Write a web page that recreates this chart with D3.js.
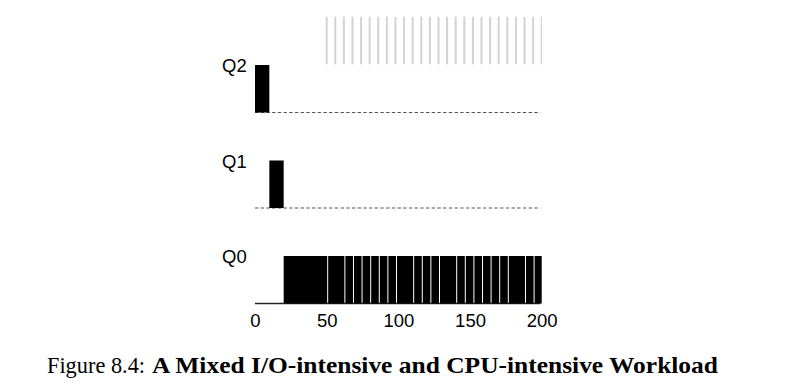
<!DOCTYPE html>
<html>
<head>
<meta charset="utf-8">
<script src="https://cdn.jsdelivr.net/npm/d3@7"></script>
<style>
  body { margin: 0; background: #fff; }
  svg { display: block; }
</style>
</head>
<body>
<svg id="chart" width="787" height="389"></svg>
<script>
//
// Data
//

// queues, top to bottom
var queues = ['Q2', 'Q1', 'Q0']
// x axis ticks (ms)
var tickValues = [0, 50, 100, 150, 200]
// long-running job: where it sits in each queue [queue, start, end]
var cpuRuns = [
    ['Q2', 0, 10],
    ['Q1', 10, 20]
]
// in Q0 it runs from 20 until 200, broken where the interactive job steps in
var q0Start = 20
var q0End = 200
var q0Breaks = [50, 62, 68, 74, 80, 86, 92, 98, 110, 116, 122, 128, 140, 146, 152, 158, 164, 170, 176, 188, 194]
// interactive (I/O) job runs, drawn in grey at the top
var ioRuns = [50, 56, 62, 68, 74, 80, 86, 92, 98, 104, 110, 116, 122, 128, 134, 140, 146, 152, 158, 164, 170, 176, 182, 188, 194, 200]

var captionLabel = 'Figure 8.4:'
var captionTitle = 'A Mixed I/O-intensive and CPU-intensive Workload'

//
// Scales
//

var svg = d3.select('#chart')
var x = d3.scaleLinear().domain([0, 200]).range([255, 541.7])
var base = d3.scalePoint().domain(queues).range([112.5, 303.5])
var barH = 47.5

// dashed baselines
svg.selectAll('line.base')
    .data(queues)
    .join('line')
    .attr('class', 'base')
    .attr('x1', x(0))
    .attr('x2', x(199))
    .attr('y1', function (q) { return base(q) })
    .attr('y2', function (q) { return base(q) })
    .attr('stroke', function (q) { return q === 'Q0' ? '#222' : '#555' })
    .attr('stroke-width', function (q) { return q === 'Q0' ? 1.5 : 1 })
    .attr('stroke-dasharray', function (q) { return q === 'Q0' ? null : '3.4,2.3' })

// queue labels
svg.selectAll('text.q')
    .data(queues)
    .join('text')
    .attr('class', 'q')
    .attr('x', 222)
    .attr('y', function (q) { return base(q) - 40.5 })
    .attr('font-family', 'Liberation Sans, Arial, sans-serif')
    .attr('font-size', 18.5)
    .attr('fill', '#000')
    .text(function (q) { return q })

// cpu job in Q2 / Q1
svg.selectAll('rect.run')
    .data(cpuRuns)
    .join('rect')
    .attr('class', 'run')
    .attr('x', function (d) { return x(d[1]) })
    .attr('width', function (d) { return x(d[2]) - x(d[1]) })
    .attr('y', function (d) { return base(d[0]) - barH })
    .attr('height', barH)
    .attr('fill', '#000')

// cpu job in Q0, split into slices
var bounds = [q0Start].concat(q0Breaks, [q0End])
var slices = d3.pairs(bounds)
svg.selectAll('rect.slice')
    .data(slices)
    .join('rect')
    .attr('class', 'slice')
    .attr('x', function (d, i) { return i === 0 ? x(d[0]) : x(d[0]) + 1.5 })
    .attr('width', function (d, i) {
        var x0 = i === 0 ? x(d[0]) : x(d[0]) + 1.5
        var x1 = i === slices.length - 1 ? x(d[1]) : x(d[1]) + 0.5
        return x1 - x0
    })
    .attr('y', base('Q0') - barH)
    .attr('height', barH)
    .attr('fill', '#000')

// interactive job, grey ticks at top
svg.selectAll('rect.io')
    .data(ioRuns)
    .join('rect')
    .attr('class', 'io')
    .attr('x', function (d) { return x(d) - 1 })
    .attr('width', function (d, i) { return i === ioRuns.length - 1 ? 1.3 : 2 })
    .attr('y', 16.7)
    .attr('height', 47.6)
    .attr('fill', '#d3d3d3')

// x axis
var axis = d3.axisBottom(x).tickValues(tickValues).tickSize(0).tickPadding(0)
var gx = svg.append('g')
    .attr('transform', 'translate(0,' + 313 + ')')
    .call(axis)
gx.select('.domain').remove()
gx.selectAll('text')
    .attr('dy', null)
    .attr('y', 13.7)
    .attr('font-family', 'Liberation Sans, Arial, sans-serif')
    .attr('font-size', 18.5)
    .attr('fill', '#000')

// caption
svg.append('text')
    .attr('x', 47)
    .attr('y', 373)
    .attr('font-family', 'Liberation Serif, serif')
    .attr('font-size', 22.5)
    .attr('textLength', 98)
    .attr('lengthAdjust', 'spacingAndGlyphs')
    .attr('fill', '#000')
    .text(captionLabel)
svg.append('text')
    .attr('x', 152)
    .attr('y', 373)
    .attr('font-family', 'Liberation Serif, serif')
    .attr('font-size', 22.5)
    .attr('font-weight', 'bold')
    .attr('textLength', 566)
    .attr('lengthAdjust', 'spacingAndGlyphs')
    .attr('fill', '#000')
    .text(captionTitle)
</script>
</body>
</html>
